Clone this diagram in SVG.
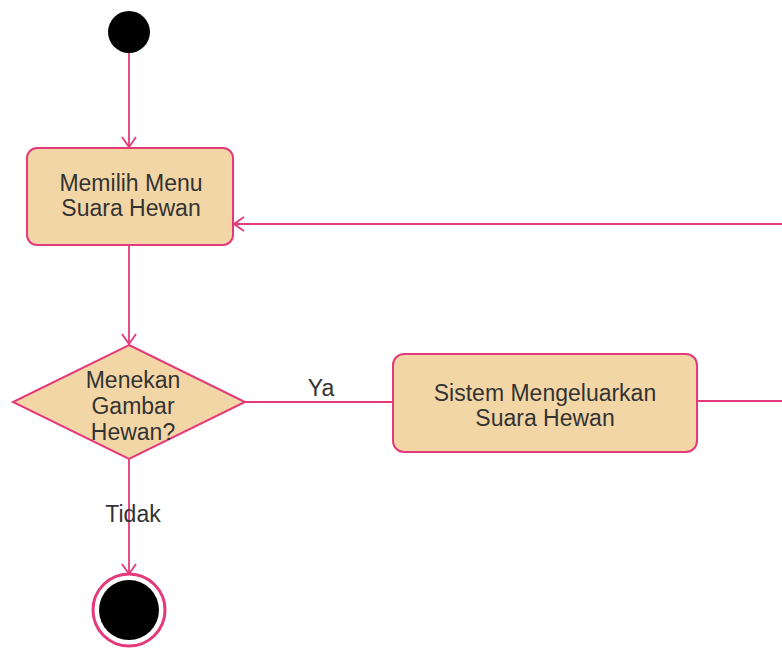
<svg xmlns="http://www.w3.org/2000/svg" width="782" height="648" viewBox="0 0 782 648">
  <style>
    .node { fill: #f3d6a6; stroke: #e4397a; stroke-width: 2; }
    .edge { fill: none; stroke: #e4397a; stroke-width: 1.8; }
    .label { font-family: "Liberation Sans", Arial, sans-serif; font-size: 23px; fill: #333333; text-anchor: middle; }
  </style>
  <defs>
    <marker id="open-arrow" viewBox="0 0 12 16" refX="11" refY="8" markerWidth="12" markerHeight="16" markerUnits="userSpaceOnUse" orient="auto">
      <path d="M1 1 L11 8 L1 15" fill="none" stroke="#e4397a" stroke-width="1.8"/>
    </marker>
  </defs>

  <rect width="782" height="648" fill="#ffffff"/>

  <!-- connectors -->
  <g id="connectors">
    <line class="edge" x1="129" y1="53" x2="129" y2="147" marker-end="url(#open-arrow)"/>
    <line class="edge" x1="129" y1="246" x2="129" y2="344" marker-end="url(#open-arrow)"/>
    <line class="edge" x1="245" y1="402" x2="393" y2="402"/>
    <line class="edge" x1="697" y1="401" x2="782" y2="401"/>
    <line class="edge" x1="782" y1="224" x2="234" y2="224" marker-end="url(#open-arrow)"/>
    <line class="edge" x1="129" y1="459" x2="129" y2="574" marker-end="url(#open-arrow)"/>
    <text class="label" x="321" y="396">Ya</text>
    <text class="label" x="133" y="522">Tidak</text>
  </g>

  <!-- start -->
  <g id="start">
    <circle cx="129" cy="32" r="21" fill="#000000"/>
  </g>

  <!-- action: Memilih Menu Suara Hewan -->
  <g id="memilih-menu">
    <rect class="node" x="27" y="148" width="206" height="97" rx="10"/>
    <text class="label" x="131" y="191">Memilih Menu</text>
    <text class="label" x="131" y="216">Suara Hewan</text>
  </g>

  <!-- decision -->
  <g id="menekan-gambar">
    <polygon class="node" points="129,345 245,402 129,459 13,402"/>
    <text class="label" x="133" y="388">Menekan</text>
    <text class="label" x="133" y="414">Gambar</text>
    <text class="label" x="133" y="440">Hewan?</text>
  </g>

  <!-- action: Sistem Mengeluarkan Suara Hewan -->
  <g id="sistem-mengeluarkan">
    <rect class="node" x="393" y="354" width="304" height="98" rx="11"/>
    <text class="label" x="545" y="401">Sistem Mengeluarkan</text>
    <text class="label" x="545" y="426">Suara Hewan</text>
  </g>

  <!-- end -->
  <g id="end">
    <circle cx="129" cy="610" r="36" fill="#ffffff" stroke="#e4397a" stroke-width="3"/>
    <circle cx="129" cy="610" r="30" fill="#000000"/>
  </g>
</svg>
